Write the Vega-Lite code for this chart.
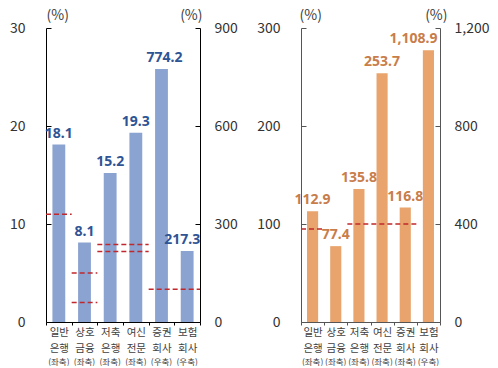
{
  "$schema": "https://vega.github.io/schema/vega-lite/v6.json",
  "padding": {"left": 9, "top": 8, "right": 4, "bottom": 0},
  "spacing": 18,
  "config": {"font": "Noto Sans CJK KR", "view": {"stroke": null}},
  "datasets": {
    "bl": [
      {"cat": "일반 은행 (좌축)", "value": 18.1, "side": "L"},
      {"cat": "상호 금융 (좌축)", "value": 8.1, "side": "L"},
      {"cat": "저축 은행 (좌축)", "value": 15.2, "side": "L"},
      {"cat": "여신 전문 (좌축)", "value": 19.3, "side": "L"},
      {"cat": "증권 회사 (우축)", "value": 774.2, "side": "R"},
      {"cat": "보험 회사 (우축)", "value": 217.3, "side": "R"}
    ],
    "rl": [
      {"from": "일반 은행 (좌축)", "to": "일반 은행 (좌축)", "value": 11, "side": "L"},
      {"from": "상호 금융 (좌축)", "to": "상호 금융 (좌축)", "value": 5, "side": "L"},
      {"from": "상호 금융 (좌축)", "to": "상호 금융 (좌축)", "value": 2, "side": "L"},
      {"from": "저축 은행 (좌축)", "to": "여신 전문 (좌축)", "value": 7.9, "side": "L"},
      {"from": "저축 은행 (좌축)", "to": "여신 전문 (좌축)", "value": 7.2, "side": "L"},
      {"from": "증권 회사 (우축)", "to": "보험 회사 (우축)", "value": 100, "side": "R"}
    ],
    "br": [
      {"cat": "일반 은행 (좌축)", "value": 112.9, "side": "L"},
      {"cat": "상호 금융 (좌축)", "value": 77.4, "side": "L"},
      {"cat": "저축 은행 (좌축)", "value": 135.8, "side": "L"},
      {"cat": "여신 전문 (좌축)", "value": 253.7, "side": "L"},
      {"cat": "증권 회사 (좌축)", "value": 116.8, "side": "L"},
      {"cat": "보험 회사 (우축)", "value": 1108.9, "side": "R"}
    ],
    "rr": [
      {"from": "일반 은행 (좌축)", "to": "일반 은행 (좌축)", "value": 95, "side": "L"},
      {"from": "저축 은행 (좌축)", "to": "증권 회사 (좌축)", "value": 100, "side": "L"}
    ]
  },
  "hconcat": [
    {
      "width": 154,
      "height": 294,
      "layer": [
        {
          "layer": [
            {
              "data": {"name": "bl"},
              "transform": [{"filter": "datum.side === 'L'"}],
              "mark": {"type": "bar", "color": "#8BA3D0", "width": {"band": 0.5}},
              "encoding": {
                "x": {"field": "cat", "type": "nominal", "sort": null,
                  "scale": {"domain": ["일반 은행 (좌축)", "상호 금융 (좌축)", "저축 은행 (좌축)", "여신 전문 (좌축)", "증권 회사 (우축)", "보험 회사 (우축)"], "paddingInner": 0, "paddingOuter": 0},
                  "axis": {"orient": "bottom", "title": null, "labelAngle": 0, "labelExpr": "isValid(datum.value) ? [split(datum.value, ' ')[0], split(datum.value, ' ')[1]] : ''", "labelFontSize": 10.5, "labelLineHeight": 16, "labelColor": "#404040", "labelPadding": 2, "tickBand": "extent", "tickSize": 3, "tickColor": "#000", "domainColor": "#000"}},
                "y": {"field": "value", "type": "quantitative",
                  "scale": {"domain": [0, 30], "nice": false},
                  "axis": {"orient": "left", "title": "(%)", "titleAngle": 0, "titleX": 0, "titleY": -6, "titleAlign": "left", "titleBaseline": "bottom", "titleFontWeight": "normal", "titleFontSize": 14, "titleColor": "#404040", "values": [0, 10, 20, 30], "labelFontSize": 14, "labelColor": "#333", "tickSize": -5, "labelPadding": 26, "domainColor": "#000", "tickColor": "#000", "grid": false}}
              }
            },
            {
              "data": {"name": "bl"},
              "transform": [{"filter": "datum.side === 'L'"}],
              "mark": {"type": "text", "baseline": "bottom", "dy": -4, "fontWeight": "bold", "fontSize": 14, "font": "Noto Sans", "color": "#2F5496"},
              "encoding": {
                "x": {"field": "cat", "type": "nominal", "sort": null, "title": null},
                "y": {"field": "value", "type": "quantitative"},
                "text": {"field": "value", "type": "quantitative", "format": ",.1f"}
              }
            },
            {
              "data": {"name": "rl"},
              "transform": [{"filter": "datum.side === 'L'"}],
              "mark": {"type": "rule", "color": "#C0282D", "strokeDash": [5, 3], "strokeWidth": 1.5},
              "encoding": {
                "x": {"field": "from", "type": "nominal", "bandPosition": 0, "title": null},
                "x2": {"field": "to", "bandPosition": 1},
                "y": {"field": "value", "type": "quantitative"}
              }
            }
          ]
        },
        {
          "layer": [
            {
              "data": {"name": "bl"},
              "transform": [{"filter": "datum.side === 'R'"}],
              "mark": {"type": "bar", "color": "#8BA3D0", "width": {"band": 0.5}},
              "encoding": {
                "x": {"field": "cat", "type": "nominal", "sort": null,
                  "scale": {"domain": ["일반 은행 (좌축)", "상호 금융 (좌축)", "저축 은행 (좌축)", "여신 전문 (좌축)", "증권 회사 (우축)", "보험 회사 (우축)"], "paddingInner": 0, "paddingOuter": 0},
                  "axis": {"orient": "bottom", "title": null, "labelAngle": 0, "labelExpr": "split(datum.value, ' ')[2]", "labelFontSize": 8.5, "labelColor": "#404040", "labelPadding": 35, "ticks": false, "domain": false}},
                "y": {"field": "value", "type": "quantitative",
                  "scale": {"domain": [0, 900], "nice": false},
                  "axis": {"orient": "right", "title": "(%)", "titleAngle": 0, "titleX": 2, "titleY": -6, "titleAlign": "right", "titleBaseline": "bottom", "titleFontWeight": "normal", "titleFontSize": 14, "titleColor": "#404040", "values": [0, 300, 600, 900], "labelFontSize": 14, "labelColor": "#333", "tickSize": -5, "labelPadding": 19, "domainColor": "#000", "tickColor": "#000", "grid": false}}
              }
            },
            {
              "data": {"name": "bl"},
              "transform": [{"filter": "datum.cat === '증권 회사 (우축)'"}],
              "mark": {"type": "text", "baseline": "bottom", "dy": -4, "dx": 3, "fontWeight": "bold", "fontSize": 14, "font": "Noto Sans", "color": "#2F5496"},
              "encoding": {
                "x": {"field": "cat", "type": "nominal", "sort": null, "title": null},
                "y": {"field": "value", "type": "quantitative"},
                "text": {"field": "value", "type": "quantitative", "format": ",.1f"}
              }
            },
            {
              "data": {"name": "bl"},
              "transform": [{"filter": "datum.cat === '보험 회사 (우축)'"}],
              "mark": {"type": "text", "baseline": "bottom", "dy": -4, "dx": -5, "fontWeight": "bold", "fontSize": 14, "font": "Noto Sans", "color": "#2F5496"},
              "encoding": {
                "x": {"field": "cat", "type": "nominal", "sort": null, "title": null},
                "y": {"field": "value", "type": "quantitative"},
                "text": {"field": "value", "type": "quantitative", "format": ",.1f"}
              }
            },
            {
              "data": {"name": "rl"},
              "transform": [{"filter": "datum.side === 'R'"}],
              "mark": {"type": "rule", "color": "#C0282D", "strokeDash": [5, 3], "strokeWidth": 1.5},
              "encoding": {
                "x": {"field": "from", "type": "nominal", "bandPosition": 0, "title": null},
                "x2": {"field": "to", "bandPosition": 1},
                "y": {"field": "value", "type": "quantitative"}
              }
            }
          ]
        }
      ],
      "resolve": {"scale": {"x": "independent", "y": "independent"}}
    },
    {
      "width": 139,
      "height": 294,
      "layer": [
        {
          "layer": [
            {
              "data": {"name": "br"},
              "transform": [{"filter": "datum.side === 'L'"}],
              "mark": {"type": "bar", "color": "#E8A46C", "width": {"band": 0.48}},
              "encoding": {
                "x": {"field": "cat", "type": "nominal", "sort": null,
                  "scale": {"domain": ["일반 은행 (좌축)", "상호 금융 (좌축)", "저축 은행 (좌축)", "여신 전문 (좌축)", "증권 회사 (좌축)", "보험 회사 (우축)"], "paddingInner": 0, "paddingOuter": 0},
                  "axis": {"orient": "bottom", "title": null, "labelAngle": 0, "labelExpr": "isValid(datum.value) ? [split(datum.value, ' ')[0], split(datum.value, ' ')[1]] : ''", "labelFontSize": 10.5, "labelLineHeight": 16, "labelColor": "#404040", "labelPadding": 2, "tickBand": "extent", "tickSize": 3, "tickColor": "#555", "domainColor": "#555"}},
                "y": {"field": "value", "type": "quantitative",
                  "scale": {"domain": [0, 300], "nice": false},
                  "axis": {"orient": "left", "title": "(%)", "titleAngle": 0, "titleX": -2, "titleY": -6, "titleAlign": "left", "titleBaseline": "bottom", "titleFontWeight": "normal", "titleFontSize": 14, "titleColor": "#404040", "values": [0, 100, 200, 300], "labelFontSize": 14, "labelColor": "#333", "tickSize": -5, "labelPadding": 26, "domainColor": "#555", "tickColor": "#555", "grid": false}}
              }
            },
            {
              "data": {"name": "br"},
              "transform": [{"filter": "datum.side === 'L'"}],
              "mark": {"type": "text", "baseline": "bottom", "dy": -4, "fontWeight": "bold", "fontSize": 14, "font": "Noto Sans", "color": "#C87D4A"},
              "encoding": {
                "x": {"field": "cat", "type": "nominal", "sort": null, "title": null},
                "y": {"field": "value", "type": "quantitative"},
                "text": {"field": "value", "type": "quantitative", "format": ",.1f"}
              }
            },
            {
              "data": {"name": "rr"},
              "transform": [{"filter": "datum.side === 'L'"}],
              "mark": {"type": "rule", "color": "#C0282D", "strokeDash": [5, 3], "strokeWidth": 1.5},
              "encoding": {
                "x": {"field": "from", "type": "nominal", "bandPosition": 0, "title": null},
                "x2": {"field": "to", "bandPosition": 1},
                "y": {"field": "value", "type": "quantitative"}
              }
            }
          ]
        },
        {
          "layer": [
            {
              "data": {"name": "br"},
              "transform": [{"filter": "datum.side === 'R'"}],
              "mark": {"type": "bar", "color": "#E8A46C", "width": {"band": 0.48}},
              "encoding": {
                "x": {"field": "cat", "type": "nominal", "sort": null,
                  "scale": {"domain": ["일반 은행 (좌축)", "상호 금융 (좌축)", "저축 은행 (좌축)", "여신 전문 (좌축)", "증권 회사 (좌축)", "보험 회사 (우축)"], "paddingInner": 0, "paddingOuter": 0},
                  "axis": {"orient": "bottom", "title": null, "labelAngle": 0, "labelExpr": "split(datum.value, ' ')[2]", "labelFontSize": 8.5, "labelColor": "#404040", "labelPadding": 35, "ticks": false, "domain": false}},
                "y": {"field": "value", "type": "quantitative",
                  "scale": {"domain": [0, 1200], "nice": false},
                  "axis": {"orient": "right", "title": "(%)", "titleAngle": 0, "titleX": 7, "titleY": -6, "titleAlign": "right", "titleBaseline": "bottom", "titleFontWeight": "normal", "titleFontSize": 14, "titleColor": "#404040", "values": [0, 400, 800, 1200], "labelFontSize": 14, "labelColor": "#333", "tickSize": -5, "labelPadding": 19, "domainColor": "#555", "tickColor": "#555", "grid": false}}
              }
            },
            {
              "data": {"name": "br"},
              "transform": [{"filter": "datum.side === 'R'"}],
              "mark": {"type": "text", "baseline": "bottom", "dy": -4, "dx": -15, "fontWeight": "bold", "fontSize": 14, "font": "Noto Sans", "color": "#C87D4A"},
              "encoding": {
                "x": {"field": "cat", "type": "nominal", "sort": null, "title": null},
                "y": {"field": "value", "type": "quantitative"},
                "text": {"field": "value", "type": "quantitative", "format": ",.1f"}
              }
            }
          ]
        }
      ],
      "resolve": {"scale": {"x": "independent", "y": "independent"}}
    }
  ]
}
